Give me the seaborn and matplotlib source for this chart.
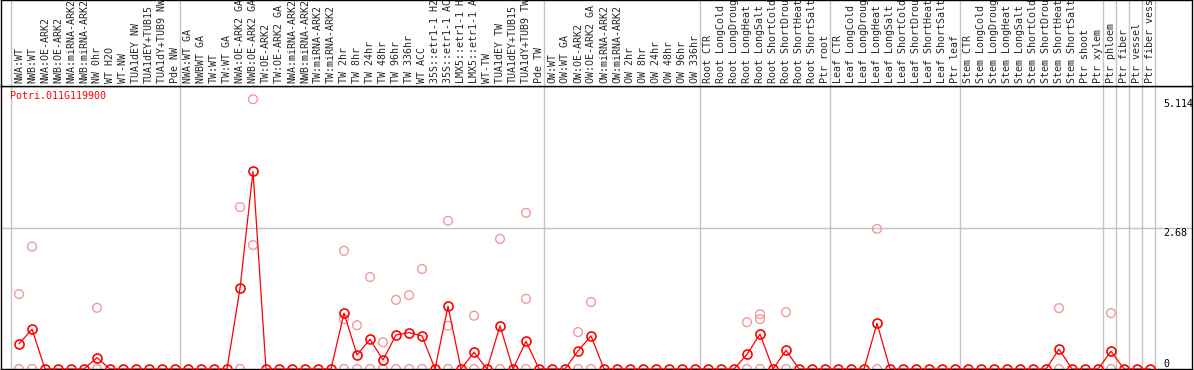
#!/usr/bin/env python
# coding: utf-8
#
import numpy as np
import pandas as pd
import seaborn as sb
from matplotlib import pyplot as plt

# sample names as shown in the header (cut at 14 chars like the original)
samples = ["NWA:WT", "NWB:WT", "NWA:OE-ARK2", "NWB:OE-ARK2", "NWA:miRNA-ARK2",
           "NWB:miRNA-ARK2", "NW 0hr", "WT H2O", "WT-NW", "TUA1dEY NW",
           "TUA1dEY+TUB15", "TUA1dY+TUB9 NW", "Pde NW",
           "NWA:WT GA", "NWBWT GA", "TW:WT", "TW:WT GA", "NWA:OE-ARK2 GA",
           "NWB:OE-ARK2 GA", "TW:OE-ARK2", "TW:OE-ARK2 GA", "NWA:miRNA-ARK2",
           "NWB:miRNA-ARK2", "TW:miRNA-ARK2", "TW:miRNA-ARK2", "TW 2hr", "TW 8hr",
           "TW 24hr", "TW 48hr", "TW 96hr", "TW 336hr", "WT ACC", "35S::etr1-1 H2",
           "35S::etr1-1 AC", "LMX5::etr1-1 H", "LMX5::etr1-1 A", "WT-TW",
           "TUA1dEY TW", "TUA1dEY+TUB15", "TUA1dY+TUB9 TW", "Pde TW",
           "OW:WT", "OW:WT GA", "OW:OE-ARK2", "OW:OE-ARK2 GA", "OW:miRNA-ARK2",
           "OW:miRNA-ARK2", "OW 2hr", "OW 8hr", "OW 24hr", "OW 48hr", "OW 96hr",
           "OW 336hr",
           "Root CTR", "Root LongCold", "Root LongDroug", "Root LongHeat",
           "Root LongSalt", "Root ShortCold", "Root ShortDrou", "Root ShortHeat",
           "Root ShortSalt", "Ptr root",
           "Leaf CTR", "Leaf LongCold", "Leaf LongDroug", "Leaf LongHeat",
           "Leaf LongSalt", "Leaf ShortCold", "Leaf ShortDrou", "Leaf ShortHeat",
           "Leaf ShortSalt", "Ptr leaf",
           "Stem CTR", "Stem LongCold", "Stem LongDroug", "Stem LongHeat",
           "Stem LongSalt", "Stem ShortCold", "Stem ShortDrou", "Stem ShortHeat",
           "Stem ShortSalt", "Ptr shoot", "Ptr xylem",
           "Ptr phloem", "Ptr fiber", "Ptr vessel", "Ptr fiber vess"]

# mean expression per sample (red line)
mean_nw = [0.475, 0.755, 0, 0, 0, 0, 0.215, 0, 0, 0, 0, 0, 0]
mean_tw = [0, 0, 0, 0, 1.53, 3.745, 0, 0, 0, 0, 0, 0, 1.06, 0.266,
           0.564, 0.171, 0.646, 0.69, 0.627, 0, 1.19, 0, 0.317, 0, 0.817,
           0, 0.526, 0]
mean_ow = [0, 0, 0.342, 0.627, 0, 0, 0, 0, 0, 0, 0, 0]
mean_root = [0, 0, 0, 0.278, 0.66, 0, 0.355, 0, 0, 0]
mean_leaf = [0, 0, 0, 0.868, 0, 0, 0, 0, 0, 0]
mean_stem = [0, 0, 0, 0, 0, 0, 0, 0.375, 0, 0, 0]
mean_cell = [0.336, 0, 0, 0]
mean_expr = mean_nw + mean_tw + mean_ow + mean_root + mean_leaf + mean_stem + mean_cell

# single replicates (light circles): sample number and value
rep_pos = [1, 1, 2, 2, 7, 7, 18, 18, 19, 19,
           26, 26, 26, 27, 27, 28, 28, 29, 29, 30, 30, 31, 31, 32, 32,
           34, 34, 34, 36, 36, 38, 38, 40, 40, 40,
           44, 44, 45, 45, 57, 57, 58, 58, 58, 60, 60, 67, 67, 81, 81, 85, 85]
rep_val = [1.42, 0, 2.32, 0, 1.16, 0, 3.07, 0, 5.114, 2.35,
           2.24, 0.945, 0, 0.83, 0, 1.743, 0, 0.507, 0, 1.31, 0, 1.40, 0, 1.895, 0,
           2.81, 0.82, 0, 1.01, 0, 2.466, 0, 2.96, 1.33, 0,
           0.70, 0, 1.27, 0, 0.887, 0, 1.04, 0.945, 0, 1.078, 0, 2.656, 0,
           1.154, 0, 1.06, 0]

# last sample number of each group (grey separators)
group_last = [0, 13, 41, 53, 63, 73, 84, 85, 86, 87, 88]
y_marks = [5.114, 2.68, 0]
gene = "Potri.011G119900"

sb.set_style("white")
plt.rcParams['font.family'] = ['DejaVu Sans Mono']
fs = 7.2
grey = '#c4c4c4'

df = pd.DataFrame({'pos': np.arange(1, len(samples) + 1), 'sample': samples,
                   'expr': mean_expr})
reps = pd.DataFrame({'pos': rep_pos, 'expr': rep_val})

W, H = 1194, 370
fig = plt.figure(figsize=(W / 100, H / 100), dpi=100)
ax = fig.add_axes([1 / W, 1 / H, 1191 / W, 283.3 / H])
hx = fig.add_axes([1 / W, 284.3 / H, 1191 / W, 85.7 / H])

sb.scatterplot(data=reps, x='pos', y='expr', ax=ax, s=40, color='none',
               edgecolor='#f09a9a', linewidth=1.0, zorder=2, legend=False)
sb.lineplot(data=df, x='pos', y='expr', ax=ax, color='red', linewidth=0.9,
            marker='o', markersize=6.5, markerfacecolor='none',
            markeredgecolor='red', markeredgewidth=1.2, zorder=3)

for a in (ax, hx):
    a.set_xlim(-0.385, 91.23)
    a.set_xticks([])
    a.set_yticks([])
    a.set_xlabel('')
    a.set_ylabel('')
    for b in group_last:
        a.axvline(b + 0.4, color=grey, lw=1, zorder=1)
    for sp in a.spines.values():
        sp.set_color('black')
        sp.set_linewidth(1.0)
ax.set_ylim(0, 5.37)
hx.set_ylim(0, 1)
ax.axhline(y_marks[1], color=grey, lw=1, zorder=1)

for v in y_marks:
    ax.text(89, v, f"{v:g}", va='bottom' if v == 0 else 'top', ha='left',
            fontsize=fs, color='black')

ax.text(0.0075, 0.98, gene, transform=ax.transAxes, color='red',
        va='top', ha='left', fontsize=fs)

for i, s in enumerate(samples):
    hx.text(i + 1, 0.035, s, rotation=90, ha='center', va='bottom',
            fontsize=fs, clip_on=True)

fig.savefig('out.png', dpi=100)
